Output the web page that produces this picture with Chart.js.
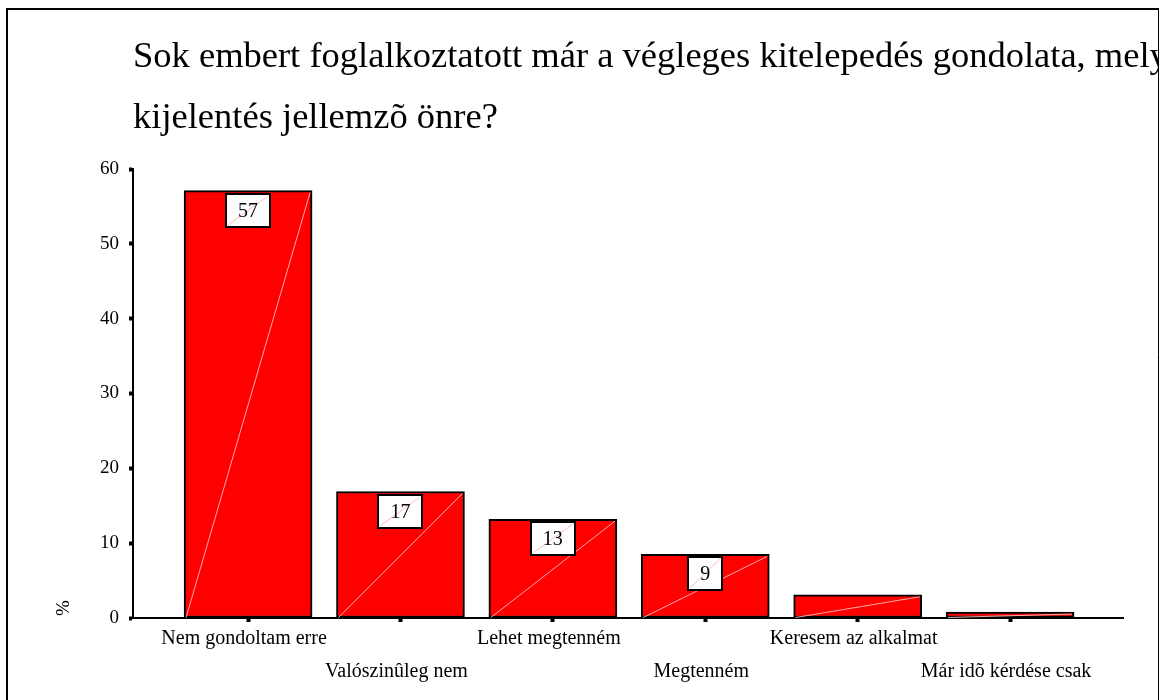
<!DOCTYPE html>
<html>
<head>
<meta charset="utf-8">
<script src="https://cdn.jsdelivr.net/npm/chart.js@4"></script>
<style>
  html, body { margin: 0; padding: 0; background: #fff; }
  #wrap { width: 1166px; height: 700px; }
</style>
</head>
<body>
<div id="wrap"><canvas id="grafica" width="1166" height="700"></canvas></div>
<script>
const titleLines = [
  'Sok embert foglalkoztatott már a végleges kitelepedés gondolata, mely',
  'kijelentés jellemzõ önre?'
];
const categories = [
  'Nem gondoltam erre',
  'Valószinûleg nem',
  'Lehet megtenném',
  'Megtenném',
  'Keresem az alkalmat',
  'Már idõ kérdése csak'
];
const percents = [57.1, 16.9, 13.2, 8.5, 3.1, 0.8];
const valueLabels = ['57', '17', '13', '9', '', ''];
const yTicks = [0, 10, 20, 30, 40, 50, 60];
const yAxisTitle = '%';

const serif = "'Liberation Serif', 'Times New Roman', serif";

// frame, title and the rotated % label
const decor = {
  id: 'decor',
  beforeDraw(chart) {
    const c = chart.ctx;
    c.save();
    c.fillStyle = '#fff';
    c.fillRect(0, 0, chart.width, chart.height);
    c.strokeStyle = '#000';
    c.lineWidth = 2;
    c.beginPath();
    c.moveTo(7, 700);
    c.lineTo(7, 9);
    c.lineTo(1159, 9);
    c.stroke();
    c.lineWidth = 1;
    c.beginPath();
    c.moveTo(1158.5, 9);
    c.lineTo(1158.5, 700);
    c.stroke();
    c.restore();
  },
  afterDraw(chart) {
    const c = chart.ctx;
    c.save();
    c.beginPath();
    c.rect(8, 10, 1150, 690);
    c.clip();
    c.fillStyle = '#000';
    c.font = '36.5px ' + serif;
    c.textBaseline = 'alphabetic';
    c.textAlign = 'left';
    c.fillText(titleLines[0], 133, 67);
    c.fillText(titleLines[1], 133, 128);
    c.restore();

    c.save();
    c.translate(64, 608);
    c.rotate(-Math.PI / 2);
    c.font = '19px ' + serif;
    c.fillStyle = '#000';
    c.textAlign = 'center';
    c.textBaseline = 'middle';
    c.fillText(yAxisTitle, 0, 0);
    c.restore();
  }
};

// diagonal hairlines in the bars and the boxed value labels
const barMarks = {
  id: 'barMarks',
  afterDatasetsDraw(chart) {
    const c = chart.ctx;
    const meta = chart.getDatasetMeta(0);
    c.save();
    meta.data.forEach(function (bar, i) {
      const left = bar.x - bar.width / 2;
      const right = bar.x + bar.width / 2;
      c.strokeStyle = 'rgba(255,190,190,0.9)';
      c.lineWidth = 1;
      c.beginPath();
      c.moveTo(left + 2, bar.base);
      c.lineTo(right - 2, bar.y + 2);
      c.stroke();

      const txt = valueLabels[i];
      if (!txt) return;
      c.font = '20px ' + serif;
      const w = Math.round(c.measureText(txt).width + 24);
      const h = 33;
      const bx = Math.round(bar.x - w / 2);
      const by = Math.round(bar.y + 3);
      c.fillStyle = '#fff';
      c.fillRect(bx, by, w, h);
      c.strokeStyle = 'rgba(255,170,170,0.8)';
      c.beginPath();
      c.moveTo(bx + 2, by + h - 2);
      c.lineTo(bx + w - 2, by + 2);
      c.stroke();
      c.strokeStyle = '#000';
      c.lineWidth = 2;
      c.strokeRect(bx, by, w, h);
      c.fillStyle = '#000';
      c.textAlign = 'center';
      c.textBaseline = 'middle';
      c.fillText(txt, bar.x, by + h / 2 + 1);
    });
    c.restore();
  }
};

const ctx = document.getElementById('grafica').getContext('2d');
const grafica = new Chart(ctx, {
  type: 'bar',
  data: {
    datasets: [{
      label: '%',
      data: percents.map(function (v, i) { return { x: i + 1, y: v }; }),
      backgroundColor: '#ff0000',
      borderColor: '#000',
      borderWidth: 2,
      borderSkipped: false,
      barThickness: 128
    }]
  },
  plugins: [decor, barMarks],
  options: {
    responsive: false,
    devicePixelRatio: 1,
    animation: false,
    layout: { padding: { top: 169, right: 43, bottom: 0, left: 0 } },
    plugins: {
      legend: { display: false },
      tooltip: { enabled: false },
      title: { display: false }
    },
    scales: {
      x: {
        type: 'linear',
        min: 0.245,
        max: 6.741,
        offset: false,
        afterFit: function (s) { s.height = 82; },
        afterBuildTicks: function (s) {
          s.ticks = categories.map(function (c, i) { return { value: i + 1 }; });
        },
        grid: {
          offset: false,
          drawOnChartArea: false,
          tickLength: 4,
          tickWidth: 4,
          tickColor: '#000'
        },
        border: { display: true, color: '#000', width: 2 },
        ticks: {
          autoSkip: false,
          maxRotation: 0,
          padding: 0,
          labelOffset: -4,
          color: '#000',
          font: { family: serif, size: 20, lineHeight: 1.65 },
          callback: function (v) {
            const name = categories[v - 1];
            if (!name) return '';
            return (v % 2 === 0) ? ['', name] : name;
          }
        }
      },
      y: {
        min: 0,
        max: 60,
        afterFit: function (s) { s.width = 133; },
        afterBuildTicks: function (s) {
          s.ticks = yTicks.map(function (v) { return { value: v }; });
        },
        grid: {
          drawOnChartArea: false,
          tickLength: 4,
          tickWidth: 4,
          tickColor: '#000'
        },
        border: { display: true, color: '#000', width: 2 },
        ticks: {
          padding: 10,
          color: '#000',
          font: { family: serif, size: 19 }
        }
      }
    }
  }
});
</script>
</body>
</html>
